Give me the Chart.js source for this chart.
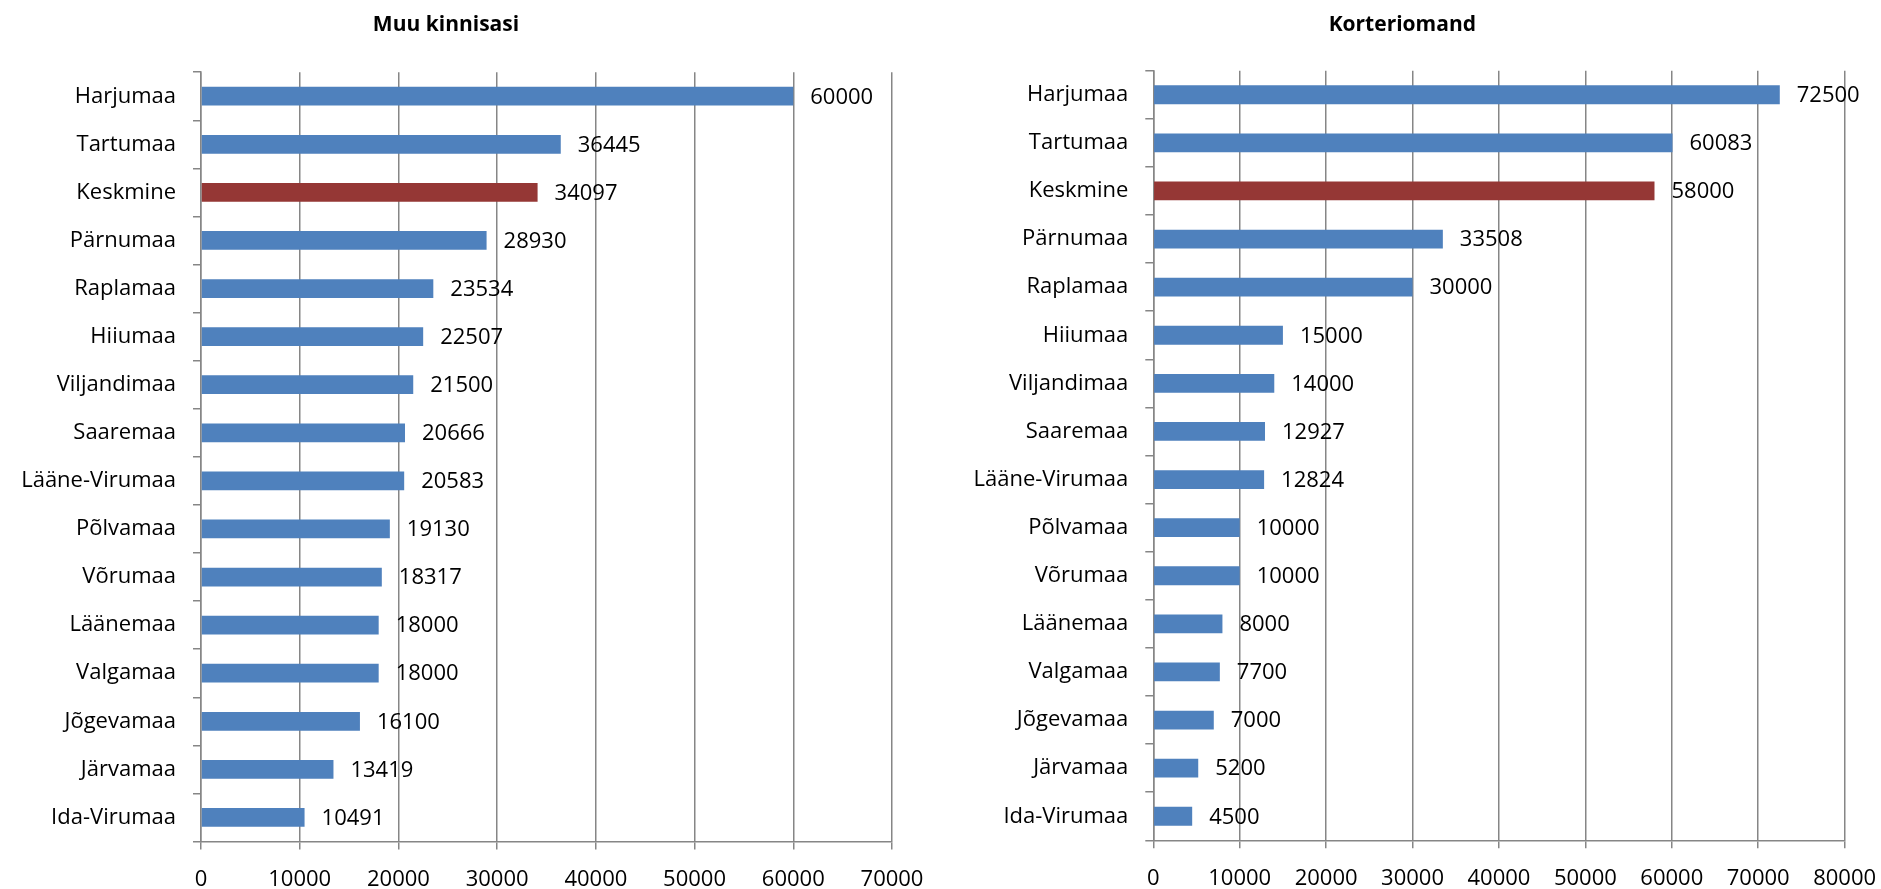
<!DOCTYPE html>
<html>
<head>
<meta charset="utf-8">
<script src="https://cdn.jsdelivr.net/npm/chart.js@4.4.1/dist/chart.umd.min.js"></script>
<style>
    html, body { margin: 0; padding: 0; background: #fff; overflow: hidden; }
    body { width: 1881px; height: 889px; position: relative; }
    .box { position: absolute; top: 0; height: 889px; }
    #boxLeft { left: 0; width: 950px; }
    #boxRight { left: 960px; width: 940px; }
</style>
</head>
<body>
<div class="box" id="boxLeft"><canvas id="chartLeft"></canvas></div>
<div class="box" id="boxRight"><canvas id="chartRight"></canvas></div>
<script>
// Counties, top to bottom (same order in both charts)
const counties = [
    'Harjumaa', 'Tartumaa', 'Keskmine', 'Pärnumaa', 'Raplamaa', 'Hiiumaa',
    'Viljandimaa', 'Saaremaa', 'Lääne-Virumaa', 'Põlvamaa', 'Võrumaa',
    'Läänemaa', 'Valgamaa', 'Jõgevamaa', 'Järvamaa', 'Ida-Virumaa'
];

// Muu kinnisasi
const otherPropertyValues = [
    60000, 36445, 34097, 28930, 23534, 22507, 21500, 20666, 20583,
    19130, 18317, 18000, 18000, 16100, 13419, 10491
];

// Korteriomand
const apartmentValues = [
    72500, 60083, 58000, 33508, 30000, 15000, 14000, 12927, 12824,
    10000, 10000, 8000, 7700, 7000, 5200, 4500
];

const leftTitle = 'Muu kinnisasi';
const rightTitle = 'Korteriomand';
const leftMax = 70000;
const rightMax = 80000;
const tickStep = 10000;

const BLUE = '#4f81bd';
const RED = '#953735';
const GRID = '#868686';
const FONT = "'Open Sans', 'DejaVu Sans', sans-serif";

Chart.defaults.font.family = FONT;
Chart.defaults.color = '#000';

/**
 * Draws the value just to the right of each bar end
 */
const barValueLabels = {
    id: 'barValueLabels',
    afterDatasetsDraw(chart) {
        const ctx = chart.ctx;
        const meta = chart.getDatasetMeta(0);
        const values = chart.data.datasets[0].data;
        ctx.save();
        ctx.font = '22px ' + FONT;
        ctx.fillStyle = '#000';
        ctx.textAlign = 'left';
        ctx.textBaseline = 'middle';
        meta.data.forEach((bar, i) => {
            ctx.fillText(String(values[i]), bar.x + 17, bar.y + 1);
        });
        ctx.restore();
    }
};

function makeChart(canvasId, values, title, max, opts) {
    const colors = counties.map(c => c === 'Keskmine' ? RED : BLUE);
    return new Chart(document.getElementById(canvasId), {
        type: 'bar',
        data: {
            labels: counties,
            datasets: [{
                data: values,
                backgroundColor: colors,
                borderWidth: 0,
                categoryPercentage: 1,
                barPercentage: 0.39
            }]
        },
        plugins: [barValueLabels],
        options: {
            indexAxis: 'y',
            responsive: true,
            maintainAspectRatio: false,
            animation: false,
            layout: { padding: { left: 0, right: opts.padRight, top: 0, bottom: 0 } },
            plugins: {
                legend: { display: false },
                tooltip: { enabled: false },
                title: {
                    display: true,
                    text: title,
                    color: '#000',
                    font: { size: 21, weight: 'bold' },
                    padding: { top: 12, bottom: opts.titleGap }
                }
            },
            scales: {
                x: {
                    min: 0,
                    max: max,
                    ticks: {
                        stepSize: tickStep,
                        padding: 17,
                        font: { size: 22 },
                        color: '#000',
                        callback: (value) => String(value)
                    },
                    grid: { color: GRID, lineWidth: 1.5, tickLength: 8 },
                    border: { color: GRID, width: 1.5 },
                    afterFit: (scale) => { scale.height = opts.xHeight; }
                },
                y: {
                    ticks: { padding: 17, font: { size: 22 }, color: '#000' },
                    grid: { drawOnChartArea: false, color: GRID, lineWidth: 1.5, tickLength: 8 },
                    border: { color: GRID, width: 1.5 },
                    afterFit: (scale) => { scale.width = opts.yWidth; }
                }
            }
        }
    });
}

makeChart('chartLeft', otherPropertyValues, leftTitle, leftMax,
    { padRight: 58, titleGap: 35, xHeight: 47.5, yWidth: 201 });
makeChart('chartRight', apartmentValues, rightTitle, rightMax,
    { padRight: 55.4, titleGap: 33.5, xHeight: 48.7, yWidth: 193.3 });
</script>
</body>
</html>
